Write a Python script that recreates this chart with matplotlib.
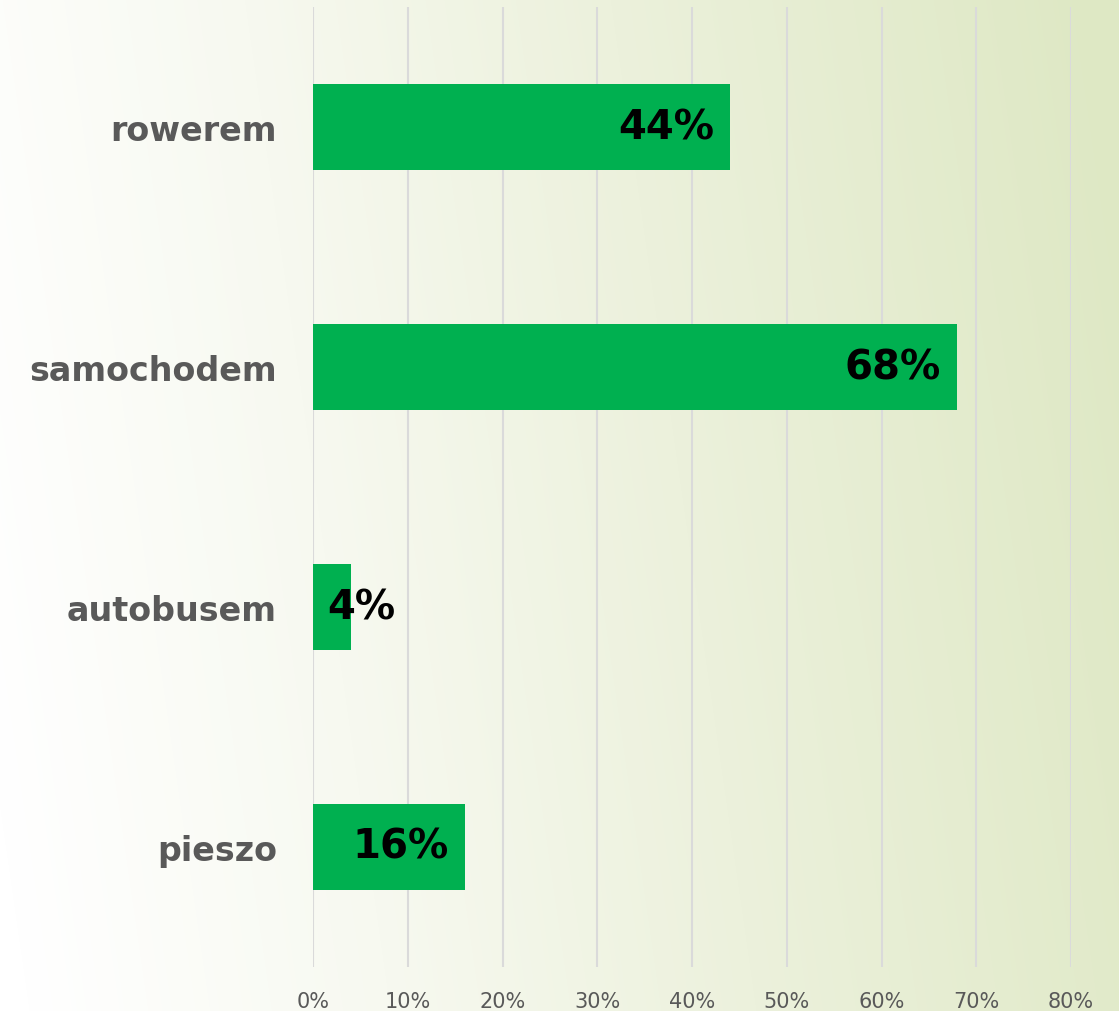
import numpy as np
import matplotlib
matplotlib.use("Agg")
import matplotlib.pyplot as plt
from matplotlib.colors import LinearSegmentedColormap

categories = ["rowerem", "samochodem", "autobusem", "pieszo"]
values = [44, 68, 4, 16]
xticks = [0, 10, 20, 30, 40, 50, 60, 70, 80]
xtick_labels = ["0%", "10%", "20%", "30%", "40%", "50%", "60%", "70%", "80%"]

W, H, DPI = 1119, 1012, 100
fig = plt.figure(figsize=(W / DPI, H / DPI), dpi=DPI)

# background gradient (white at left, soft green at right)
bg = fig.add_axes([0, 0, 1, 1], zorder=0)
bg.set_axis_off()
yy, xx = np.mgrid[0:H, 0:W]
t = (xx / W) * 0.92 + (1 - yy / H) * 0.12 - 0.02
t = np.clip(t, 0, 1)
cmap = LinearSegmentedColormap.from_list(
    "bg", [(0, "#ffffff"), (0.3, "#f7f9f0"), (0.6, "#ecf1dc"), (1.0, "#dee8c4")])
bg.imshow(t, cmap=cmap, aspect="auto", extent=[0, 1, 0, 1], origin="upper", vmin=0, vmax=1)
bg.set_xlim(0, 1); bg.set_ylim(0, 1)

ax = fig.add_axes([313 / W, 44 / H, (1071 - 313) / W, (1004 - 44) / H], zorder=1)
ax.patch.set_alpha(0)
y = np.arange(len(categories))
ax.barh(y, values, height=0.355, color="#00B050", zorder=3)
ax.set_ylim(len(categories) - 0.5, -0.5)
ax.set_xlim(0, 80)
ax.set_xticks(xticks)
ax.set_xticklabels(xtick_labels, fontsize=15, color="#595959",
                   family=["Liberation Sans Narrow", "DejaVu Sans"])
ax.tick_params(axis="x", length=0, pad=17)
ax.set_yticks(y)
ax.set_yticklabels(categories, fontsize=24, fontweight="bold", color="#595959",
                   family=["DejaVu Sans"])
ax.tick_params(axis="y", length=0, pad=26)
ax.grid(axis="x", color="#dadada", linewidth=1.5, zorder=1)
ax.grid(axis="y", visible=False)
for s in ax.spines.values():
    s.set_visible(False)

for yi, v in zip(y, values):
    if v >= 10:
        ax.text(v - 1.7, yi, f"{v}%", ha="right", va="center", fontsize=29,
                fontweight="bold", color="black", zorder=4)
    else:
        ax.text(1.5, yi, f"{v}%", ha="left", va="center", fontsize=29,
                fontweight="bold", color="black", zorder=4)

fig.savefig("out.png", dpi=DPI)
